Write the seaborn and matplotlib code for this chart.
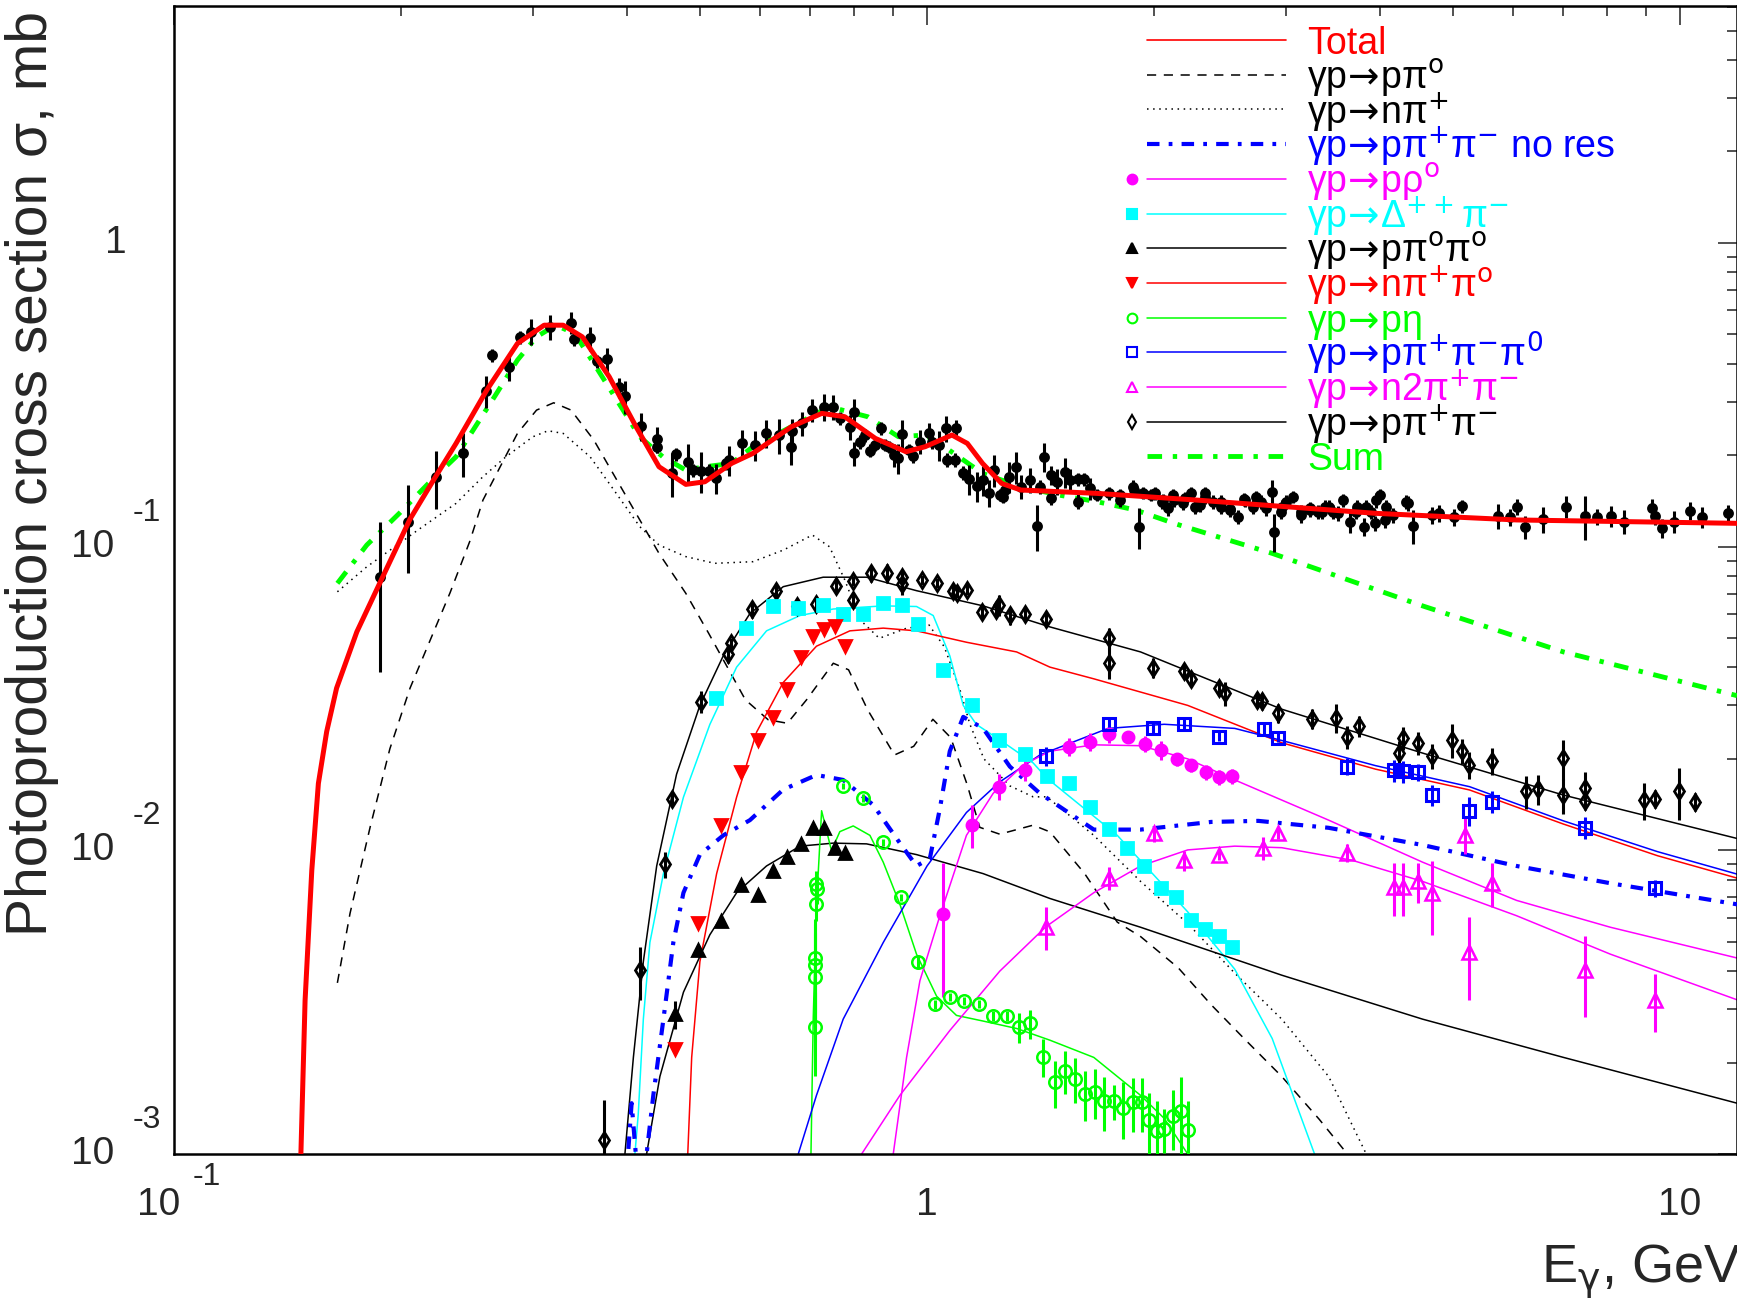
import matplotlib
matplotlib.use("Agg")
import matplotlib.pyplot as plt
import matplotlib.transforms as mtrans
from matplotlib.lines import Line2D
from matplotlib.ticker import LogLocator, NullFormatter
import seaborn as sns
import numpy as np

# ---------------- data (E in GeV, sigma in mb) ----------------
# total photoabsorption data: (E, sigma, error)
tot_pts = [
    (.1875, .0796, .041), (.2047, .1207, .039), (.223, .1698, .037), (.242, .2031, .034),
    (.2596, .3258, .040), (.2648, .4269, .020), (.2786, .3909, .041), (.2884, .4903, .024),
    (.2977, .5097, .050), (.3157, .5294, .051), (.3366, .5456, .046), (.3396, .481, .024),
    (.3568, .4847, .045), (.3643, .4081, .020), (.376, .4132, .039), (.3896, .3344, .025),
    (.3965, .313, .039), (.4169, .2493, .026), (.4377, .2254, .022), (.4377, .2132, .010),
    (.4589, .1751, .029), (.4636, .2017, .010), (.4809, .1894, .029), (.4894, .1786, .009),
    (.5009, .1773, .027), (.5128, .1777, .009), (.5238, .1676, .019), (.5407, .188, .009),
    (.545, .1928, .022), (.5684, .2198, .023), (.5905, .2159, .024), (.6117, .2358, .025),
    (.636, .2328, .031), (.6588, .2132, .028), (.6616, .2406, .023), (.6814, .2545, .024),
    (.704, .2815, .024), (.729, .2887, .030), (.7505, .2887, .028), (.7665, .2643, .013),
    (.7913, .248, .023), (.7987, .2028, .018), (.8005, .278, .029), (.8147, .2214, .011),
    (.826, .2328, .011), (.839, .2069, .010), (.8519, .2159, .010), (.869, .2449, .012),
    (.8795, .2159, .010), (.8897, .2132, .010), (.9031, .2002, .017), (.9161, .1953, .022),
    (.9267, .2346, .026), (.9462, .2079, .010), (.9576, .1987, .010), (.98, .2214, .020),
    (1.006, .2358, .020), (1.015, .2214, .011), (1.036, .2159, .025), (1.06, .2449, .024),
    (1.064, .1928, .010), (1.089, .1928, .010), (1.092, .2449, .017), (1.115, .1751, .009),
    (1.137, .1664, .019), (1.164, .1583, .018), (1.185, .1656, .019), (1.21, .1505, .015),
    (1.227, .1786, .022), (1.249, .1479, .007), (1.262, .1459, .007), (1.271, .1536, .007),
    (1.286, .1698, .020), (1.313, .1823, .022), (1.332, .1575, .014), (1.371, .1656, .016),
    (1.399, .1169, .020), (1.412, .1575, .008), (1.432, .1977, .021), (1.463, .1442, .007),
    (1.463, .172, .012), (1.488, .1635, .016), (1.523, .1764, .020), (1.55, .1656, .015),
    (1.587, .1664, .008), (1.587, .1405, .008), (1.615, .1664, .008), (1.644, .1556, .013),
    (1.683, .1479, .007), (1.743, .1497, .007), (1.803, .1424, .007), (1.806, .1479, .007),
    (1.877, .1575, .008), (1.881, .1536, .007), (1.914, .1163, .018), (1.935, .1505, .007),
    (1.983, .1479, .007), (2.006, .1497, .007), (2.054, .1405, .007), (2.057, .1424, .007),
    (2.089, .1336, .007), (2.122, .1479, .007), (2.127, .1424, .007), (2.188, .1388, .007),
    (2.202, .1442, .007), (2.244, .1497, .007), (2.268, .1353, .007), (2.302, .137, .007),
    (2.338, .1497, .007), (2.34, .1452, .007), (2.399, .1405, .007), (2.454, .1405, .007),
    (2.46, .1353, .007), (2.523, .1319, .007), (2.525, .1327, .007), (2.587, .1254, .007),
    (2.636, .1431, .007), (2.641, .1424, .007), (2.709, .1353, .007), (2.733, .1459, .007),
    (2.78, .1405, .007), (2.822, .1336, .007), (2.874, .1516, .014), (2.886, .1119, .016),
    (2.955, .1302, .007), (2.957, .1353, .007), (3.0, .1405, .007), (3.065, .1459, .007),
    (3.133, .1302, .007), (3.141, .127, .007), (3.222, .1336, .007), (3.224, .1319, .007),
    (3.304, .1302, .007), (3.342, .1302, .007), (3.372, .1353, .007), (3.415, .1353, .007),
    (3.46, .1302, .007), (3.513, .1286, .007), (3.568, .1424, .007), (3.642, .1208, .010),
    (3.716, .1302, .007), (3.721, .1353, .007), (3.803, .1163, .008), (3.832, .1353, .007),
    (3.885, .1302, .007), (3.93, .1193, .007), (3.942, .1424, .008), (3.999, .1479, .007),
    (4.057, .1223, .007), (4.074, .1353, .007), (4.157, .127, .007), (4.33, .1405, .007),
    (4.346, .1388, .008), (4.422, .1172, .015), (4.682, .127, .008), (4.786, .1286, .008),
    (5.016, .1248, .008), (5.14, .1359, .007), (5.727, .1261, .012), (5.937, .1248, .008),
    (6.065, .1353, .008), (6.225, .1163, .010), (6.566, .1229, .012), (7.054, .1353, .011),
    (7.469, .1261, .021), (7.762, .1254, .008), (8.084, .1261, .010), (8.414, .1208, .011),
    (9.174, .1337, .010), (9.264, .1261, .008), (9.467, .1149, .008), (9.813, .1208, .010),
    (10.32, .1312, .009), (10.7, .1248, .010), (11.57, .1286, .008),
]

# gamma p -> p pi+ pi- (open diamonds)
pipi_pts = [
    (.3724, .00111, .0004), (.4157, .00402, .0008), (.4492, .0090, .0009), (.4579, .01474, .0007),
    (.5004, .0309, .0025), (.5435, .04441, .003), (.549, .04801, .002), (.5848, .06233, .004),
    (.6293, .07162, .004), (.6709, .06378, .004), (.7131, .06471, .004), (.7561, .07416, .004),
    (.7979, .07701, .003), (.7979, .0666, .004), (.8414, .08164, .005), (.8835, .08164, .006),
    (.9268, .07926, .004), (.9268, .07548, .006), (.9833, .07767, .003), (1.0316, .07592, .003),
    (1.0832, .07162, .003), (1.0965, .07059, .003), (1.1315, .07204, .003), (1.1835, .06108, .003),
    (1.2363, .06198, .003), (1.2451, .06416, .005), (1.2882, .05934, .004), (1.3484, .06021, .003),
    (1.4382, .05764, .003), (1.7456, .04984, .004), (1.7456, .04152, .005), (1.998, .03988, .003),
    (2.193, .03897, .002), (2.241, .03655, .002), (2.443, .03419, .002), (2.489, .03293, .003),
    (2.744, .03133, .002), (2.784, .03107, .002), (2.924, .02832, .002), (3.247, .02711, .002),
    (3.488, .02735, .003), (3.615, .0236, .002), (3.748, .02559, .002), (4.235, .02089, .002),
    (4.283, .02346, .002), (4.485, .02259, .002), (4.683, .02046, .002), (4.98, .02312, .003),
    (5.14, .02119, .002), (5.238, .01914, .002), (5.627, .01971, .002), (6.243, .01563, .002),
    (6.471, .01594, .0018), (6.982, .0201, .003), (6.982, .01517, .002), (7.469, .01608, .002),
    (7.469, .01453, .001), (8.963, .01462, .002), (9.266, .01475, .001), (9.954, .01563, .003),
    (10.47, .01445, .001),
]

# gamma p -> Delta++ pi- (filled squares)
delta_pts = [
    (.5245, .03162), (.5747, .0539), (.6235, .06378), (.6745, .06286), (.7265, .06416),
    (.7738, .06021), (.8227, .06021), (.8727, .0651), (.9249, .06416), (.9733, .0555),
    (1.0486, .03918), (1.149, .03001), (1.247, .02312), (1.348, .0207), (1.441, .01754),
    (1.545, .0167), (1.648, .01391), (1.746, .01179), (1.841, .0102), (1.944, .00888),
    (2.045, .0075), (2.144, .0070), (2.241, .00588), (2.34, .0055), (2.443, .00524), (2.543, .0048),
]

# gamma p -> n pi+ pi0 (filled down triangles)
npip_pts = [
    (.4631, .00222), (.4969, .00578), (.5323, .0121), (.5655, .01806), (.5957, .02312),
    (.6248, .02751), (.6509, .0339), (.6794, .04337), (.7061, .05087), (.7295, .05359),
    (.7546, .05484), (.7777, .04704),
]

# gamma p -> p pi0 pi0 (filled up triangles)
pi0pi0_pts = [
    (.4626, .00288, .0003), (.4969, .00469, .0002), (.5323, .00583, .0002), (.5655, .00768, .0002),
    (.5957, .00714, .0002), (.6248, .00858, .0002), (.6521, .00954, .0002), (.6794, .0105, .0002),
    (.7061, .01186, .0002), (.7295, .01186, .0002), (.7546, .0102, .0002), (.7777, .00982, .0002),
]

# gamma p -> p eta (open circles)
eta_pts = [
    (.7131, .00772, .0008), (.7140, .00746, .0008), (.7131, .00664, .0008), (.7096, .00442, .0015),
    (.7089, .0042, .0015), (.7096, .00383, .0015), (.7089, .00261, .0008), (.7723, .01632, .0004),
    (.8227, .01487, .0004), (.8727, .01062, .0003), (.9222, .0070, .0002), (.9733, .0043, .0002),
    (1.0242, .00311, .0001), (1.072, .00329, .0001), (1.12, .0032, .0001), (1.173, .00312, .0001),
    (1.224, .00285, .0001), (1.275, .00285, .0001), (1.325, .00262, .0003), (1.372, .00269, .0003),
    (1.426, .00209, .0003), (1.48, .00172, .0003), (1.527, .00188, .0003), (1.572, .00177, .0003),
    (1.622, .00158, .0003), (1.67, .0016, .0003), (1.718, .00149, .0003), (1.771, .00149, .0002),
    (1.823, .00142, .0003), (1.876, .00148, .0003), (1.931, .00148, .0003), (1.972, .00129, .0003),
    (2.021, .00119, .0003), (2.065, .00121, .0002), (2.12, .00133, .0003), (2.172, .00139, .0004),
    (2.219, .0012, .0003),
]

# gamma p -> p rho0 (filled circles)
rho_pts = [
    (1.0486, .00618, .0029), (1.149, .01215, .002), (1.247, .01622, .0016), (1.348, .01843, .0015),
    (1.545, .02194, .0015), (1.648, .02278, .0015), (1.746, .02414, .0015), (1.846, .02366, .001),
    (1.95, .02245, .0014), (2.045, .02137, .0015), (2.147, .01999, .001), (2.241, .01904, .001),
    (2.343, .01806, .001), (2.443, .01745, .001), (2.543, .01755, .001),
]

# gamma p -> p pi+ pi- pi0 (open squares)
ppp0_pts = [
    (1.438, .02046, .0015), (1.746, .02596, .0012), (1.998, .02522, .001), (2.193, .02611, .0012),
    (2.443, .02366, .0008), (2.8, .02507, .0012), (2.924, .02346, .0008), (3.615, .01887, .0012),
    (4.174, .01833, .0015), (4.283, .01822, .0015), (4.485, .01806, .0012), (4.683, .01517, .0012),
    (5.238, .01351, .0015), (5.627, .01445, .0012), (7.469, .01186, .001), (9.266, .0075, .0005),
]

# gamma p -> n 2pi+ pi- (open triangles)
n2pi_pts = [
    (1.438, .00561, .0009), (1.746, .00809, .0007), (2.0, .01136, .0007), (2.193, .00927, .0007),
    (2.443, .00968, .0004), (2.792, .0102, .0009), (2.924, .01136, .0005), (3.615, .00982, .0007),
    (4.174, .00757, .0015), (4.283, .00757, .0015), (4.485, .0079, .0012), (4.683, .00725, .002),
    (5.178, .01126, .0015), (5.238, .00462, .0014), (5.627, .00779, .0013), (7.469, .00403, .0012),
    (9.266, .00322, .0007),
]

# model curves (E, sigma)
total_curve = [
    (.1474, .001), (.1493, .0032), (.1524, .0086), (.1555, .0166), (.1595, .0246), (.1644, .0342),
    (.1749, .0524), (.1897, .0804), (.2058, .1232), (.2211, .1656), (.2369, .2187), (.2602, .3275),
    (.2858, .4665), (.3101, .5359), (.3287, .5359), (.3485, .4906), (.3784, .3624), (.4108, .248),
    (.4406, .1832), (.4782, .1603), (.5069, .1635), (.5499, .1879), (.5872, .2028), (.6601, .248),
    (.7248, .2746), (.7776, .2677), (.8539, .2271), (.9377, .2053), (.9942, .2133), (1.079, .233),
    (1.131, .2187), (1.185, .1879), (1.256, .1615), (1.332, .1536), (1.683, .1497), (2.281, .1423),
    (3.941, .1287), (6.065, .1224), (11.9, .1193),
]
sum_curve = [
    (.1648, .0757), (.1803, .1012), (.1996, .1294), (.2199, .1656), (.2369, .1976), (.2664, .3114),
    (.2858, .4112), (.303, .4906), (.3212, .5359), (.3405, .5031), (.361, .4009), (.3873, .3037),
    (.4155, .2299), (.4457, .1976), (.4782, .1786), (.5069, .1832), (.5499, .1879), (.5872, .2133),
    (.6601, .248), (.7421, .2887), (.8342, .2677), (.9161, .2301), (.9942, .233), (1.054, .2133),
    (1.185, .1742), (1.332, .1575), (1.497, .1478), (1.683, .1405), (1.892, .132), (2.127, .1193),
    (2.873, .095), (4.55, .0638), (7.0, .045), (11.9, .0323),
]
ppi0_curve = [
    (.1648, .00366), (.1713, .0062), (.1822, .01195), (.1935, .0216), (.2058, .0342), (.2188, .0491),
    (.2326, .0705), (.2472, .1045), (.2572, .1423), (.2858, .2359), (.303, .2815), (.3193, .2976),
    (.3367, .2815), (.361, .2243), (.3828, .1742), (.4155, .1224), (.4406, .095), (.4782, .0702),
    (.5129, .0518), (.5738, .0313), (.6153, .0269), (.6523, .0262), (.6918, .0313), (.7507, .0413),
    (.7866, .0393), (.834, .029), (.9052, .0206), (.96, .022), (1.018, .027), (1.075, .0235),
    (1.13, .0165), (1.175, .0119), (1.249, .0113), (1.383, .0121), (1.456, .0115), (1.618, .0084),
    (1.789, .0058), (1.921, .0052), (2.156, .0041), (2.384, .0031), (2.636, .0024), (2.958, .0018),
    (3.318, .0013), (3.615, .001),
]
npi_curve = [
    (.1648, .071), (.1803, .0858), (.1996, .1028), (.2108, .1134), (.2369, .1388), (.2572, .1699),
    (.2759, .1976), (.2995, .2299), (.3138, .2407), (.3287, .2359), (.3569, .1976), (.3784, .1614),
    (.4155, .1163), (.4406, .1012), (.4782, .0927), (.5224, .0881), (.5872, .0892), (.645, .0975),
    (.7042, .1092), (.7421, .0999), (.7776, .0777), (.8149, .0574), (.8641, .0499), (.9377, .0538),
    (1.006, .0552), (1.054, .0468), (1.105, .034), (1.14, .026), (1.19, .020), (1.288, .0163),
    (1.383, .015), (1.442, .015), (1.665, .0112), (1.921, .0079), (2.219, .00574), (2.562, .00394),
    (2.958, .00278), (3.414, .0018), (3.83, .001),
]
nores_curve = [
    (.3983, .0008), (.4052, .00147), (.4135, .0008), (.4242, .001), (.433, .00156), (.4466, .00278),
    (.4603, .00497), (.4748, .00725), (.4993, .00968), (.5363, .0112), (.5818, .01257), (.6442, .01585),
    (.7131, .0177), (.7738, .01705), (.8483, .0141), (.9203, .01056), (.9683, .00888), (1.0086, .0094),
    (1.04, .01372), (1.072, .0212), (1.117, .0275), (1.187, .0252), (1.288, .01887), (1.412, .0154),
    (1.665, .0117), (1.921, .0117), (2.384, .0124), (2.753, .0125), (3.414, .01186), (4.55, .01041),
    (6.065, .00888), (8.08, .00779), (11.9, .00664),
]
rho_curve = [
    (.9018, .001), (.9393, .00208), (.9784, .00372), (1.04, .00609), (1.128, .0112), (1.224, .0154),
    (1.342, .0191), (1.456, .0212), (1.665, .02225), (1.921, .0221), (2.219, .02), (2.562, .01705),
    (3.414, .01257), (4.55, .00914), (6.065, .00684), (8.08, .00558), (11.9, .00442),
]
delta_curve = [
    (.4093, .001), (.4135, .00135), (.42, .00278), (.4285, .00497), (.4466, .00838), (.4748, .01496),
    (.5147, .02596), (.5586, .0401), (.6121, .0528), (.678, .0593), (.7506, .0623), (.8746, .0638),
    (.9683, .0635), (1.019, .0593), (1.072, .0437), (1.117, .030), (1.163, .02596), (1.249, .0231),
    (1.383, .0194), (1.442, .0173), (1.789, .0112), (2.219, .00627), (2.562, .00406), (2.873, .0024),
    (3.27, .001),
]
pi0pi0_curve = [
    (.4242, .001), (.4418, .0018), (.4748, .00341), (.5147, .00527), (.5586, .00725), (.6121, .00888),
    (.678, .01032), (.7506, .01056), (.8311, .0105), (.9683, .00968), (1.187, .00838), (1.456, .00694),
    (1.921, .00558), (2.958, .00388), (4.55, .00278), (7.0, .00208), (11.9, .00147),
]
npip_curve = [
    (.4811, .001), (.4869, .00208), (.4993, .0043), (.5255, .00838), (.5586, .01496), (.5938, .0245),
    (.6442, .0357), (.7131, .047), (.7898, .0528), (.8746, .0539), (.9683, .0528), (1.128, .04843),
    (1.315, .045), (1.456, .0401), (1.665, .0367), (2.219, .030), (2.958, .0226), (3.941, .0185),
    (5.253, .0158), (7.0, .0122), (9.33, .0096), (11.9, .0081),
]
eta_curve = [
    (.7012, .001), (.7061, .0028), (.7131, .0066), (.7244, .0135), (.7466, .00997), (.7659, .01152),
    (.7979, .01203), (.8397, .0112), (.8746, .00914), (.9203, .00664), (.9683, .00455), (1.0295, .00331),
    (1.094, .00286), (1.187, .00274), (1.315, .00259), (1.456, .00237), (1.665, .00208), (1.921, .00156),
    (2.065, .00131), (2.219, .001),
]
ppp0_curve = [
    (.6745, .001), (.7131, .00156), (.7738, .00278), (.8746, .00497), (1.0, .00888), (1.128, .01332),
    (1.249, .0168), (1.412, .0206), (1.739, .0252), (2.065, .026), (2.562, .0252), (2.958, .0230),
    (3.941, .0190), (5.253, .0162), (7.0, .0125), (9.33, .0099), (11.9, .00835),
]
n2pi_curve = [
    (.8187, .001), (.9203, .00156), (1.072, .00255), (1.249, .0040), (1.438, .0056), (1.665, .00725),
    (1.921, .00888), (2.219, .01003), (2.562, .01032), (2.958, .0102), (3.669, .00927), (4.55, .0079),
    (6.065, .00609), (8.08, .00455), (11.9, .00322),
]
pipi_curve = [
    (.397, .001), (.4074, .00208), (.42, .0043), (.4375, .00888), (.4649, .0178), (.4993, .030),
    (.5363, .0437), (.5818, .0602), (.6442, .0738), (.7279, .0793), (.8311, .0793), (.9683, .0716),
    (1.1874, .0638), (1.456, .0544), (1.921, .045), (2.958, .02915), (4.55, .0209), (7.0, .0152),
    (11.9, .01094),
]

ARROW = r"$\!\rightarrow\!$"
legend_labels = [
    "Total", "γp" + ARROW + "pπ$^{o}$", "γp" + ARROW + "nπ$^{+}$",
    "γp" + ARROW + "pπ$^{+}$π$^{-}$ no res", "γp" + ARROW + "pρ$^{o}$",
    "γp" + ARROW + "Δ$^{++}$π$^{-}$", "γp" + ARROW + "pπ$^{o}$π$^{o}$",
    "γp" + ARROW + "nπ$^{+}$π$^{o}$", "γp" + ARROW + "pη",
    "γp" + ARROW + "pπ$^{+}$π$^{-}$π$^{0}$", "γp" + ARROW + "n2π$^{+}$π$^{-}$",
    "γp" + ARROW + "pπ$^{+}$π$^{-}$", "Sum",
]

# ---------------- style ----------------
sns.set_style("white")
plt.rcParams["font.family"] = ["Liberation Sans", "DejaVu Sans"]
plt.rcParams["mathtext.fontset"] = "dejavusans"
plt.rcParams["mathtext.default"] = "rm"

RED, GREEN, BLUE = "#ff0000", "#00ff00", "#0000ff"
MAG, CYAN, BLACK = "#ff00ff", "#00ffff", "#000000"
DASH = (0, (6, 5))
DOT = (0, (1, 3))
DASHDOT = (0, (3, 2.2, 0.9, 2.2))

W, H = 1737, 1299
fig = plt.figure(figsize=(W / 100, H / 100), dpi=100)
ax = fig.add_axes([174 / W, 1 - 1154 / H, (W - 174) / W, (1154 - 5.5) / H])
ax.set_xscale("log")
ax.set_yscale("log")


def curve(pts, color, lw, ls="-", z=2):
    E, s = np.array(pts).T
    sns.lineplot(x=E, y=s, ax=ax, color=color, lw=lw, linestyle=ls,
                 estimator=None, sort=False, legend=False, zorder=z)


def points(pts, marker, color, ms, filled=True, ew=2.0, z=5):
    arr = np.array(pts).T
    E, s = arr[0], arr[1]
    err = arr[2] if len(arr) > 2 else None
    ax.errorbar(E, s, yerr=err, fmt=marker, ms=ms, color=color,
                mfc=color if filled else "none", mec=color, mew=ew,
                elinewidth=2.2, capsize=0, zorder=z)


curve(ppi0_curve, BLACK, 1.1, DASH)
curve(npi_curve, BLACK, 1.1, DOT)
curve(pipi_curve, BLACK, 1.1)
curve(delta_curve, CYAN, 1.1)
curve(npip_curve, RED, 1.1)
curve(pi0pi0_curve, BLACK, 1.1)
curve(eta_curve, GREEN, 1.1)
curve(ppp0_curve, BLUE, 1.1)
curve(rho_curve, MAG, 1.1)
curve(n2pi_curve, MAG, 1.1)
curve(nores_curve, BLUE, 3.0, DASHDOT, z=3)
curve(sum_curve, GREEN, 3.5, DASHDOT, z=3)

points(tot_pts, "o", BLACK, 5.8)
points(pipi_pts, "d", BLACK, 8.5, filled=False, ew=2.0)
points(delta_pts, "s", CYAN, 8)
points(npip_pts, "v", RED, 8)
points(pi0pi0_pts, "^", BLACK, 8)
points(eta_pts, "o", GREEN, 9, filled=False, ew=1.8)
points(rho_pts, "o", MAG, 8)
points(ppp0_pts, "s", BLUE, 9, filled=False, ew=2.2)
points(n2pi_pts, "^", MAG, 10, filled=False, ew=1.8)

curve(total_curve, RED, 3.6, z=6)

ax.set_xlim(0.1, 11.9)
ax.set_ylim(1e-3, 6.05)

for sp in ax.spines.values():
    sp.set_linewidth(1.8)
    sp.set_color("black")
for axis in (ax.xaxis, ax.yaxis):
    axis.set_major_locator(LogLocator(base=10, numticks=20))
    axis.set_minor_locator(LogLocator(base=10, subs=np.arange(2, 10), numticks=50))
    axis.set_minor_formatter(NullFormatter())
ax.tick_params(which="both", direction="in", top=True, right=True,
               labelbottom=False, labelleft=False, width=1.2, color="#333333")
ax.tick_params(which="major", length=14)
ax.tick_params(which="minor", length=7)

# ROOT-like tick labels
ty = mtrans.blended_transform_factory(fig.transFigure, ax.transData)
ty_exp = mtrans.offset_copy(ty, fig=fig, x=0, y=34, units="dots")
for v, exp in [(1e-3, "-3"), (1e-2, "-2"), (1e-1, "-1")]:
    ax.text(93 / W, v, "10", transform=ty, ha="center", va="center", fontsize=28)
    ax.text(147 / W, v, exp, transform=ty_exp, ha="center", va="center", fontsize=23)
ax.text(116 / W, 1.0, "1", transform=ty, ha="center", va="center", fontsize=28)

tx = mtrans.blended_transform_factory(ax.transData, fig.transFigure)
tx_l = mtrans.offset_copy(tx, fig=fig, x=-15, y=0, units="dots")
tx_e = mtrans.offset_copy(tx, fig=fig, x=33, y=0, units="dots")
ax.text(0.1, 1 - 1205 / H, "10", transform=tx_l, ha="center", va="center", fontsize=28)
ax.text(0.1, 1 - 1177 / H, "-1", transform=tx_e, ha="center", va="center", fontsize=23)
ax.text(1.0, 1 - 1205 / H, "1", transform=tx, ha="center", va="center", fontsize=28)
ax.text(10.0, 1 - 1205 / H, "10", transform=tx, ha="center", va="center", fontsize=28)

# axis titles
fig.text(47 / W, 1 - 936 / H, "Photoproduction cross section σ, mb", rotation=90,
         rotation_mode="anchor", ha="left", va="baseline", fontsize=41)
fig.text(1541 / W, 1 - 1283 / H, "E$_{γ}$, GeV", ha="left", va="baseline", fontsize=39)

# ROOT-style legend (marker left of line)
leg_style = [
    (RED, "-", 1.2, None, True), (BLACK, DASH, 1.1, None, True), (BLACK, DOT, 1.1, None, True),
    (BLUE, DASHDOT, 3.0, None, True), (MAG, "-", 1.1, "o", True), (CYAN, "-", 1.1, "s", True),
    (BLACK, "-", 1.1, "^", True), (RED, "-", 1.1, "v", True), (GREEN, "-", 1.1, "o", False),
    (BLUE, "-", 1.1, "s", False), (MAG, "-", 1.1, "^", False), (BLACK, "-", 1.1, "d", False),
    (GREEN, DASHDOT, 3.5, None, True),
]
for i, (lab, (col, ls, lw, mk, filled)) in enumerate(zip(legend_labels, leg_style)):
    yl = 1 - (40 + i * 34.7) / H
    fig.add_artist(Line2D([1147 / W, 1286 / W], [yl, yl], color=col, lw=lw,
                          linestyle=ls, transform=fig.transFigure))
    if mk is not None:
        fig.add_artist(Line2D([1132 / W], [yl], marker=mk, ms=7, color=col,
                              mfc=col if filled else "none", mec=col, mew=1.5,
                              linestyle="none", transform=fig.transFigure))
    fig.text(1307 / W, 1 - (54 + i * 34.7) / H, lab, color=col, fontsize=27,
             ha="left", va="baseline")

fig.savefig("out.png", dpi=100)
